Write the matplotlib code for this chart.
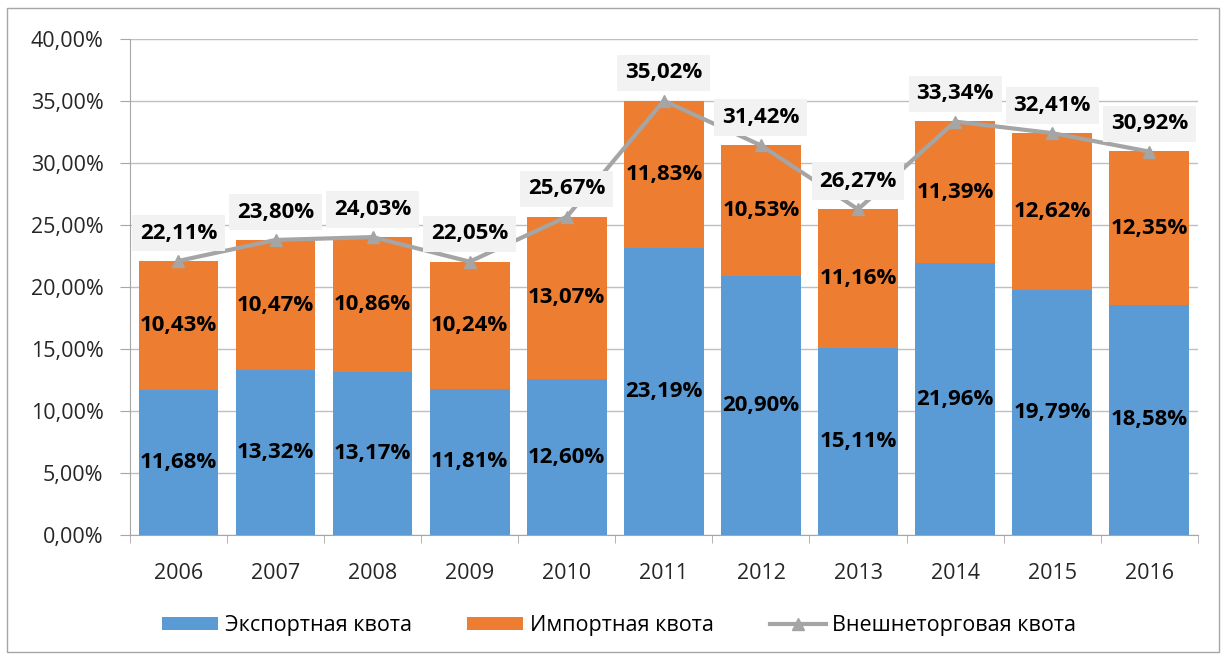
import matplotlib.pyplot as plt
import numpy as np
from matplotlib.patches import Rectangle

years = ['2006', '2007', '2008', '2009', '2010', '2011', '2012', '2013', '2014', '2015', '2016']
export_quota = [11.68, 13.32, 13.17, 11.81, 12.60, 23.19, 20.90, 15.11, 21.96, 19.79, 18.58]
import_quota = [10.43, 10.47, 10.86, 10.24, 13.07, 11.83, 10.53, 11.16, 11.39, 12.62, 12.35]
trade_quota = [22.11, 23.80, 24.03, 22.05, 25.67, 35.02, 31.42, 26.27, 33.34, 32.41, 30.92]
series_names = ['Экспортная квота', 'Импортная квота', 'Внешнеторговая квота']


def pct(v):
    return f'{v:.2f}%'.replace('.', ',')


plt.rcParams['font.family'] = ['Open Sans', 'DejaVu Sans']

fig = plt.figure(figsize=(12.26, 6.6), dpi=100)
ax = fig.add_axes([0.106, 0.189, 0.871, 0.752])

x = np.arange(len(years))
width = 0.82
blue = '#5b9bd5'
orange = '#ed7d31'
gray = '#a5a5a5'
lbl_size = 16

b1 = ax.bar(x, export_quota, width, color=blue, label=series_names[0], zorder=2)
b2 = ax.bar(x, import_quota, width, bottom=export_quota, color=orange,
            label=series_names[1], zorder=2)
line, = ax.plot(x, trade_quota, color=gray, lw=3, marker='^', ms=9,
                label=series_names[2], zorder=3)

for i in range(len(years)):
    ax.text(x[i], export_quota[i] / 2, pct(export_quota[i]), ha='center', va='center',
            fontsize=lbl_size, fontweight='bold', color='black', zorder=4)
    ax.text(x[i], export_quota[i] + import_quota[i] / 2, pct(import_quota[i]),
            ha='center', va='center', fontsize=lbl_size, fontweight='bold',
            color='black', zorder=4)
    ax.annotate(pct(trade_quota[i]), (x[i], trade_quota[i]), xytext=(0, 20),
                textcoords='offset points', ha='center', va='center',
                fontsize=lbl_size, fontweight='bold', color='black', zorder=5,
                bbox=dict(boxstyle='square,pad=0.35', fc='#f2f2f2', ec='none'))

ax.set_xlim(-0.5, len(years) - 0.5)
ax.set_ylim(0, 40)
ax.set_yticks(np.arange(0, 41, 5))
ax.set_yticklabels([pct(v) for v in np.arange(0, 41, 5)])
ax.set_xticks(x)
ax.set_xticklabels(years)
ax.set_xticks(np.arange(-0.5, len(years), 1), minor=True)
ax.tick_params(axis='x', which='major', length=0, pad=20, labelsize=15.5, labelcolor='#262626')
ax.tick_params(axis='x', which='minor', length=6, color='#a6a6a6')
ax.tick_params(axis='y', length=7, pad=12, color='#a6a6a6', labelsize=15.5, labelcolor='#262626')
ax.grid(axis='y', color='#bfbfbf', lw=1, zorder=0)
ax.set_axisbelow(True)
for s in ['top', 'right']:
    ax.spines[s].set_visible(False)
for s in ['left', 'bottom']:
    ax.spines[s].set_color('#a6a6a6')

fig.legend(handles=[b1, b2, line], loc='center', bbox_to_anchor=(0.505, 0.052), ncol=3,
           frameon=False, fontsize=15.5, handlelength=2.6, handleheight=0.6,
           columnspacing=2.6, handletextpad=0.3)

fig.patches.append(Rectangle((0.006, 0.012), 0.988, 0.976, transform=fig.transFigure,
                             fill=False, ec='#a6a6a6', lw=1))

fig.savefig('out.png', dpi=100)
